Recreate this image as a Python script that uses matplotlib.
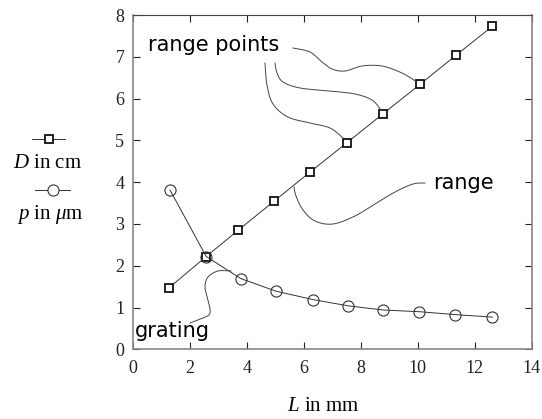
import numpy as np
import matplotlib
matplotlib.use("Agg")
import matplotlib.pyplot as plt
from matplotlib.lines import Line2D

plt.rcParams['font.family'] = ['Liberation Serif', 'DejaVu Serif']
plt.rcParams['mathtext.fontset'] = 'custom'
plt.rcParams['mathtext.rm'] = 'Liberation Serif'
plt.rcParams['mathtext.it'] = 'Liberation Serif:italic'

# Data
L_D = [1.27, 2.58, 3.70, 4.97, 6.22, 7.51, 8.79, 10.08, 11.35, 12.62]
D_cm = [1.47, 2.22, 2.85, 3.55, 4.24, 4.94, 5.64, 6.34, 7.04, 7.73]
L_p = [1.31, 2.58, 3.80, 5.03, 6.32, 7.56, 8.79, 10.06, 11.31, 12.62]
p_um = [3.81, 2.22, 1.69, 1.39, 1.19, 1.04, 0.94, 0.90, 0.83, 0.77]

xticks = [0, 2, 4, 6, 8, 10, 12, 14]
yticks = [0, 1, 2, 3, 4, 5, 6, 7, 8]

W, H = 542, 419
fig = plt.figure(figsize=(W/100, H/100), dpi=100)
ax_l, ax_r, ax_t, ax_b = 132.7, 531.7, 15.0, 349.3
ax = fig.add_axes([ax_l/W, 1-ax_b/H, (ax_r-ax_l)/W, (ax_b-ax_t)/H])

lc = '#333333'
ax.plot(L_D, D_cm, '-', color=lc, lw=0.7, marker='s', ms=5.5, mfc='white',
        mec='#111111', mew=1.3)
ax.plot(L_p, p_um, '-', color=lc, lw=0.7, marker='o', ms=8, mfc='none',
        mec='#333333', mew=0.8)

ax.set_xlim(0, 14)
ax.set_ylim(0, 8)
ax.set_xticks(xticks)
ax.set_xticklabels([str(v) for v in xticks], fontfamily='Liberation Serif')
ax.set_yticks(yticks)
ax.set_yticklabels([str(v) for v in yticks], fontfamily='Liberation Serif')
ax.tick_params(direction='in', length=5, width=0.8, top=True, right=True,
               labelsize=13, colors='#222222', pad=6)
ax.tick_params(axis='x', pad=8)
for s in ax.spines.values():
    s.set_color('#888888')
    s.set_linewidth(1.2)
ax.spines['top'].set_color('#444444')
ax.spines['top'].set_linewidth(0.8)

fig.text(323/W, 1-406/H, '$L$ in mm', fontsize=15, ha='center', va='center')

# pixel -> data helpers for annotation curves
def px2d(pts):
    pts = np.asarray(pts, float)
    x = (pts[:, 0]-ax_l)/(ax_r-ax_l)*14
    y = (ax_b-pts[:, 1])/(ax_b-ax_t)*8
    return x, y

def catmull(pts, n=20):
    pts = np.asarray(pts, float)
    P = np.vstack([pts[0], pts, pts[-1]])
    out = []
    for i in range(1, len(P)-2):
        p0, p1, p2, p3 = P[i-1], P[i], P[i+1], P[i+2]
        t = np.linspace(0, 1, n)[:, None]
        seg = 0.5*((2*p1) + (-p0+p2)*t + (2*p0-5*p1+4*p2-p3)*t**2 + (-p0+3*p1-3*p2+p3)*t**3)
        out.append(seg)
    return np.vstack(out)

curves = [
    [(293, 48), (310, 52), (322, 62), (332, 69), (345, 71), (362, 66), (382, 66), (402, 73), (417, 82)],
    [(275, 63), (277, 73), (283, 82), (300, 88), (330, 91), (355, 94), (372, 100), (381, 110)],
    [(265, 63), (267, 85), (273, 104), (288, 117), (310, 123), (330, 128), (343, 138)],
    [(425, 183), (413, 184), (395, 192), (375, 204), (355, 216), (333, 224), (315, 221), (303, 210), (296, 196), (294, 187)],
    [(190, 323), (203, 318), (210, 313), (208, 300), (205, 287), (208, 277), (218, 271), (231, 271)],
]
for c in curves:
    sm = catmull(c)
    x, y = px2d(sm)
    ax.plot(x, y, color='#444444', lw=0.7, clip_on=False)

def t(px, py, s, **kw):
    x, y = px2d([(px, py)])
    ax.text(x[0], y[0], s, fontsize=15, family=['DejaVu Sans'], va='center', ha='left', **kw)

t(148, 45, 'range points')
t(433, 183, 'range')
t(135, 331, 'grating')

# Legend on the left
fig.add_artist(Line2D([32/W, 48.5/W, 65/W], [1-139/H]*3, color=lc, lw=0.7,
                      marker='s', markevery=[1], ms=5.5, mfc='white', mec='#111111', mew=1.3))
fig.add_artist(Line2D([35/W, 53/W, 70/W], [1-190/H]*3, color=lc, lw=0.7,
                      marker='o', markevery=[1], ms=8, mfc='white', mec='#333333', mew=0.8))
fig.text(48/W, 1-163/H, '$D$ in cm', fontsize=15, ha='center', va='center')
fig.text(50/W, 1-214/H, '$p$ in $\\mu$m', fontsize=15, ha='center', va='center')

fig.savefig('out.png', dpi=100)
